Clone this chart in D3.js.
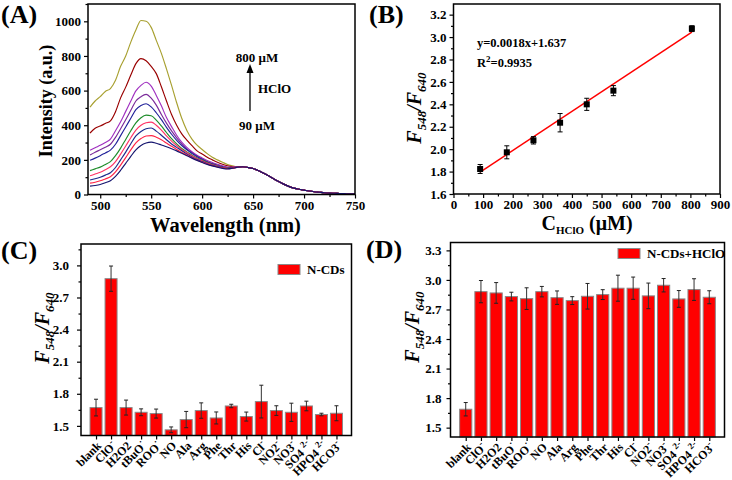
<!DOCTYPE html>
<html><head><meta charset="utf-8">
<script src="https://cdn.jsdelivr.net/npm/d3@7"></script>
<style>
body{margin:0;background:#fff;}
svg text{font-family:"Liberation Serif","Times New Roman",serif;font-weight:bold;fill:#000;}
</style>
</head><body>
<svg id="chart" width="732" height="480"></svg>
<script>
// ---------- Panel A data ----------
const wlHead = [490,495,500,505,510,515,520,525,530,535,540,545,550,555,560,565,570,575,580,585,590,595,600,605,610,615,620,625,630];
const curve1  = [48,52,58,68,80,105,140,180,220,258,283,297,302,296,286,276,264,252,238,224,210,197,185,174,165,157,151,148,152];
const curve2  = [66,71,79,90,102,130,170,213,258,298,323,338,340,331,316,297,278,260,243,228,212,198,186,176,166,159,154,149,152];
const curve3  = [84,91,100,112,126,156,200,245,293,338,364,380,384,366,342,316,292,272,252,234,217,202,190,178,168,161,155,150,152];
const curve4  = [108,118,128,143,160,190,233,280,328,372,400,414,418,400,372,338,308,283,260,242,224,208,195,182,171,163,156,151,153];
const curve5  = [138,148,158,173,190,224,268,318,368,413,443,458,455,430,396,358,322,292,266,246,227,211,197,184,173,164,157,152,153];
const curve6  = [198,210,224,240,256,290,340,390,440,490,514,524,506,472,432,388,348,313,283,258,237,218,202,187,176,166,158,152,155];
const curve7  = [228,244,258,273,290,330,380,432,486,540,565,578,556,516,462,412,367,327,292,263,242,222,206,191,180,170,162,155,155];
const curve8  = [255,270,284,300,320,368,420,480,540,598,630,648,626,572,512,444,392,342,302,272,247,227,211,196,185,175,166,158,158];
const curve9  = [355,383,395,410,425,478,558,620,690,756,785,772,740,698,622,540,462,400,350,314,282,252,234,215,200,186,175,166,160];
const curve10 = [505,540,565,595,612,660,740,800,880,950,1005,1000,965,890,815,725,630,530,440,370,320,285,260,236,215,200,186,173,165];
const wlTail = [635,640,645,650,655,660,665,670,675,680,685,690,695,700,705,710,715,720,725,730,735,740,745,750];
const tailIntensity = [158,160,156,150,139,124,108,91,75,60,47,37,30,25,20,16,13,10,8,7,6,5,4,4];
const curveColors = ["#14146e","#ff2244","#1c2a8c","#ff3366","#1e8c2a","#22229a","#7a2a9a","#a030c0","#990000","#a8a030"];
const aXTicks = [500,550,600,650,700,750];
const aYTicks = [0,200,400,600,800,1000];

// ---------- Panel B data ----------
const bConc  = [90,180,270,360,450,540,805];
const bRatio = [1.823,1.972,2.079,2.236,2.400,2.522,3.075];
const bErr   = [0.040,0.058,0.033,0.082,0.054,0.045,0.026];
const fitX = [90,805];
const fitY = [1.795,3.045];
const bXTicks = [0,100,200,300,400,500,600,700,800,900];
const bYTicks = [1.6,1.8,2.0,2.2,2.4,2.6,2.8,3.0,3.2];

// ---------- Panels C / D data ----------
const cats = ["blank","ClO","H2O2","tBuO","ROO","NO","Ala","Arg","Phe","Thr","His","Cl","NO2","NO3","SO4 ","HPO4 ","HCO3"];
const catSups = ["","-","","·","·","","","","","","","-","-","-","2-","2-","-"];
const cVals = [1.671,2.876,1.671,1.627,1.615,1.463,1.559,1.643,1.574,1.686,1.587,1.727,1.643,1.627,1.686,1.606,1.618];
const cErr  = [0.078,0.118,0.070,0.032,0.042,0.027,0.076,0.072,0.056,0.016,0.042,0.153,0.045,0.085,0.045,0.012,0.070];
const dVals = [1.687,2.881,2.868,2.831,2.810,2.881,2.820,2.790,2.834,2.851,2.916,2.916,2.838,2.946,2.807,2.902,2.824];
const dErr  = [0.068,0.113,0.105,0.044,0.110,0.053,0.068,0.040,0.130,0.050,0.132,0.113,0.130,0.068,0.085,0.110,0.066];
const cYTicks = [1.5,1.8,2.1,2.4,2.7,3.0];
const dYTicks = [1.5,1.8,2.1,2.4,2.7,3.0,3.3];

const svg = d3.select("#chart");
const FONT = "Liberation Serif, Times New Roman, serif";

function frame(g, L, R, T, B) {
  g.append("rect").attr("x", L).attr("y", T).attr("width", R - L).attr("height", B - T)
    .attr("fill", "none").attr("stroke", "#000").attr("stroke-width", 1.5);
}
function styleAxis(sel, size) {
  sel.attr("font-family", FONT).attr("font-size", size).attr("font-weight", "bold");
  sel.select(".domain").remove();
  sel.selectAll(".tick line").attr("stroke", "#000").attr("stroke-width", 1.2);
}
function yAxisWithMinor(g, y, L, major, minor, fmt, pad) {
  const a = g.append("g").attr("transform", `translate(${L},0)`)
    .call(d3.axisLeft(y).tickValues(major).tickFormat(fmt).tickSize(4).tickPadding(pad));
  styleAxis(a, 13);
  const m = g.append("g").attr("transform", `translate(${L},0)`)
    .call(d3.axisLeft(y).tickValues(minor).tickFormat("").tickSize(2.5));
  styleAxis(m, 13);
}
function xAxisWithMinor(g, x, B, major, minor, fmt, pad) {
  const a = g.append("g").attr("transform", `translate(0,${B})`)
    .call(d3.axisBottom(x).tickValues(major).tickFormat(fmt).tickSize(4).tickPadding(pad));
  styleAxis(a, 13);
  if (minor) {
    const m = g.append("g").attr("transform", `translate(0,${B})`)
      .call(d3.axisBottom(x).tickValues(minor).tickFormat("").tickSize(2.5));
    styleAxis(m, 13);
  }
}
function panelLabel(txt, x, y) {
  svg.append("text").attr("x", x).attr("y", y).attr("font-size", 26).text(txt);
}
function ratioTitle(g, x, y) {
  const t = g.append("text").attr("transform", `translate(${x},${y}) rotate(-90)`)
    .attr("text-anchor", "middle").attr("font-style", "italic").attr("font-size", 20);
  t.append("tspan").text("F");
  t.append("tspan").attr("font-size", 13).attr("dy", 5).text("548");
  t.append("tspan").attr("dy", -5).text("/F");
  t.append("tspan").attr("font-size", 13).attr("dy", 5).text("640");
}

// ================= Panel A =================
{
  const L = 88, R = 355, T = 4, B = 194.5;
  const g = svg.append("g");
  const x = d3.scaleLinear().domain([488, 750]).range([L, R]);
  const y = d3.scaleLinear().domain([0, 1100]).range([B, T]);
  const heads = [curve1,curve2,curve3,curve4,curve5,curve6,curve7,curve8,curve9,curve10];
  const line = d3.line().x(d => x(d[0])).y(d => y(d[1])).curve(d3.curveMonotoneX);
  g.append("clipPath").attr("id", "clipA").append("rect")
    .attr("x", L).attr("y", T).attr("width", R - L).attr("height", B - T);
  const lines = g.append("g").attr("clip-path", "url(#clipA)");
  for (let k = heads.length - 1; k >= 0; k--) {
    const pts = wlHead.map((w, i) => [w, heads[k][i]]).concat(wlTail.map((w, i) => [w, tailIntensity[i]]));
    lines.append("path").datum(pts).attr("d", line).attr("fill", "none")
      .attr("stroke", curveColors[k]).attr("stroke-width", 1.15);
  }
  const aXMinor = d3.range(525, 750, 50);
  const aYMinor = d3.range(100, 1101, 200);
  xAxisWithMinor(g, x, B, aXTicks, aXMinor, d3.format("d"), 2);
  yAxisWithMinor(g, y, L, aYTicks, aYMinor, d3.format("d"), 3);
  frame(g, L, R, T, B);
  g.append("text").attr("x", (L + R) / 2 + 4).attr("y", 231.5).attr("text-anchor", "middle")
    .attr("font-size", 20.5).text("Wavelength (nm)");
  g.append("text").attr("transform", `translate(52,101) rotate(-90)`).attr("text-anchor", "middle")
    .attr("font-size", 18).text("Intensity (a.u.)");
  // annotation
  g.append("text").attr("x", 257).attr("y", 62).attr("text-anchor", "middle").attr("font-size", 13).text("800 μM");
  g.append("text").attr("x", 257).attr("y", 130).attr("text-anchor", "middle").attr("font-size", 13).text("90 μM");
  g.append("text").attr("x", 258).attr("y", 93).attr("font-size", 13).text("HClO");
  g.append("line").attr("x1", 250).attr("x2", 250).attr("y1", 111).attr("y2", 72)
    .attr("stroke", "#000").attr("stroke-width", 1.3);
  g.append("path").attr("d", "M250,64 L246.5,73 L253.5,73 Z").attr("fill", "#000");
}
panelLabel("(A)", 1, 23);

// ================= Panel B =================
{
  const L = 453.5, R = 720, T = 4, B = 194;
  const g = svg.append("g");
  const x = d3.scaleLinear().domain([0, 900]).range([L, R]);
  const y = d3.scaleLinear().domain([1.6, 3.295]).range([B, T]);
  xAxisWithMinor(g, x, B, bXTicks, d3.range(50, 900, 100), d3.format("d"), 2);
  yAxisWithMinor(g, y, L, bYTicks, d3.range(1.7, 3.3, 0.2), d3.format(".1f"), 3);
  frame(g, L, R, T, B);
  g.append("line").attr("x1", x(fitX[0])).attr("y1", y(fitY[0])).attr("x2", x(fitX[1])).attr("y2", y(fitY[1]))
    .attr("stroke", "#ff0000").attr("stroke-width", 1.5);
  bConc.forEach((c, i) => {
    const cx = x(c), y0 = y(bRatio[i] - bErr[i]), y1 = y(bRatio[i] + bErr[i]);
    g.append("line").attr("x1", cx).attr("x2", cx).attr("y1", y0).attr("y2", y1).attr("stroke", "#000").attr("stroke-width", 1);
    g.append("line").attr("x1", cx - 2.5).attr("x2", cx + 2.5).attr("y1", y0).attr("y2", y0).attr("stroke", "#000").attr("stroke-width", 1);
    g.append("line").attr("x1", cx - 2.5).attr("x2", cx + 2.5).attr("y1", y1).attr("y2", y1).attr("stroke", "#000").attr("stroke-width", 1);
    g.append("rect").attr("x", cx - 3).attr("y", y(bRatio[i]) - 3).attr("width", 6).attr("height", 6).attr("fill", "#000");
  });
  g.append("text").attr("x", 477).attr("y", 47).attr("font-size", 12.5).text("y=0.0018x+1.637");
  const r2 = g.append("text").attr("x", 477).attr("y", 67).attr("font-size", 12.5);
  r2.append("tspan").text("R");
  r2.append("tspan").attr("dy", -5).attr("font-size", 9).text("2");
  r2.append("tspan").attr("dy", 5).text("=0.9935");
  const xt = g.append("text").attr("x", 587).attr("y", 230).attr("text-anchor", "middle").attr("font-size", 20);
  xt.append("tspan").text("C");
  xt.append("tspan").attr("font-size", 11).attr("dy", 4).text("HClO");
  xt.append("tspan").attr("dy", -4).text(" (μM)");
  ratioTitle(g, 421, 108);
}
panelLabel("(B)", 369, 23);

// ================= Panels C & D =================
function barPanel(opts) {
  const { L, R, T, B, yDomain, vals, errs, yTicks, labelPad, legend, legendX, legendY, titleX, titleY } = opts;
  const g = svg.append("g");
  const x = d3.scaleLinear().domain([-1, 17]).range([L, R]);
  const y = d3.scaleLinear().domain(yDomain).range([B, T]);
  const bw = (x(0.8) - x(0));
  const minor = yTicks.map(v => v + 0.15).filter(v => v < yDomain[1]);
  yAxisWithMinor(g, y, L, yTicks, minor, d3.format(".1f"), labelPad);
  const xa = g.append("g").attr("transform", `translate(0,${B})`)
    .call(d3.axisBottom(x).tickValues(d3.range(0, 17)).tickFormat("").tickSize(4));
  styleAxis(xa, 12);
  vals.forEach((v, i) => {
    g.append("rect").attr("x", x(i) - bw / 2).attr("y", y(v)).attr("width", bw).attr("height", y(yDomain[0]) - y(v))
      .attr("fill", "#ff0000").attr("stroke", "#8a8a8a").attr("stroke-width", 1);
  });
  vals.forEach((v, i) => {
    const cx = x(i), y0 = y(v - errs[i]), y1 = y(v + errs[i]);
    g.append("line").attr("x1", cx).attr("x2", cx).attr("y1", y0).attr("y2", y1).attr("stroke", "#333").attr("stroke-width", 1);
    [y0, y1].forEach(yy => g.append("line").attr("x1", cx - 2).attr("x2", cx + 2).attr("y1", yy).attr("y2", yy)
      .attr("stroke", "#222").attr("stroke-width", 1));
  });
  frame(g, L, R, T, B);
  // category labels
  cats.forEach((c, i) => {
    const t = g.append("text").attr("transform", `translate(${x(i) + 6},${B + 11}) rotate(-45)`)
      .attr("text-anchor", "end").attr("font-size", 12);
    t.append("tspan").text(c);
    if (catSups[i]) t.append("tspan").attr("dy", -5).attr("font-size", 9).text(catSups[i]);
  });
  // legend
  g.append("rect").attr("x", legendX).attr("y", legendY).attr("width", 22).attr("height", 10)
    .attr("fill", "#ff0000").attr("stroke", "#8a8a8a");
  g.append("text").attr("x", legendX + 29).attr("y", legendY + 9.5).attr("font-size", 13).text(legend);
  ratioTitle(g, titleX, titleY);
}
barPanel({ L: 81, R: 351.5, T: 244, B: 435.5, yDomain: [1.41, 3.2], vals: cVals, errs: cErr, yTicks: cYTicks,
  labelPad: 8, legend: "N-CDs", legendX: 278, legendY: 264.5, titleX: 49, titleY: 328 });
panelLabel("(C)", 1, 259);
barPanel({ L: 450.5, R: 724.5, T: 242.5, B: 437, yDomain: [1.405, 3.38], vals: dVals, errs: dErr, yTicks: dYTicks,
  labelPad: 5, legend: "N-CDs+HClO", legendX: 618, legendY: 248.5, titleX: 419, titleY: 327 });
panelLabel("(D)", 366, 258);
</script>
</body></html>
